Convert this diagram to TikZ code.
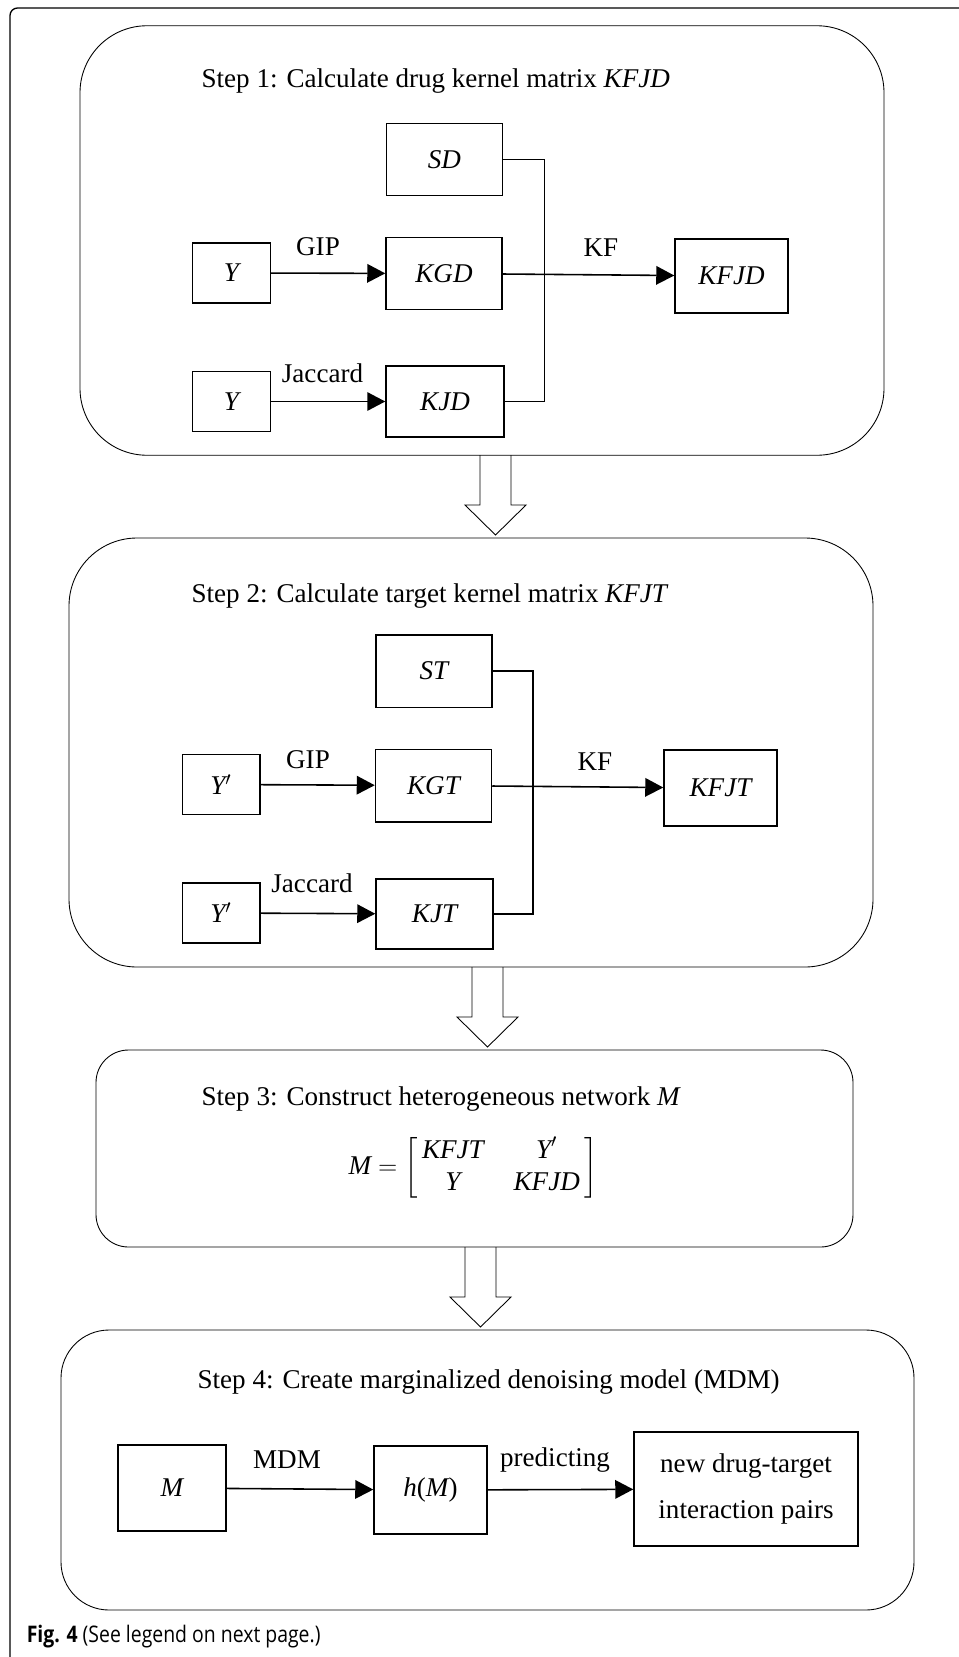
\documentclass[tikz,border=0pt]{standalone}
\usepackage{amsmath}
\usepackage{fontspec}
\setmainfont{Liberation Serif}
\newfontfamily\capfont[FakeStretch=0.85]{Open Sans}
\usetikzlibrary{arrows.meta,positioning,calc}
\newcommand{\stepdown}[1]{\draw[bigarrow] (#1) ++(-0.31,0) -- ++(0,-1) -- ++(-0.3,0)
  -- ++(0.61,-0.6) -- ++(0.61,0.6) -- ++(-0.3,0) -- ++(0,1);}

\begin{document}
\begin{tikzpicture}
 [font=\fontsize{15.4}{18.5}\selectfont,
 >={Triangle[length=0.36cm,width=0.37cm]}, line width=0.9pt,
 stage/.style={draw,line width=0.5pt,inner sep=0pt},
 ybox/.style={draw,line width=0.85pt,inner sep=0pt,minimum width=1.55cm,minimum height=1.2cm,
   font=\fontsize{15.4}{18.5}\selectfont\itshape},
 kbox/.style={ybox,minimum width=2.32cm,minimum height=1.45cm},
 lab/.style={anchor=base,inner sep=0pt},
 bigarrow/.style={line width=0.5pt,line join=miter}]
\useasboundingbox (0,0) rectangle (19.16,-33.14);

% outer frame
\draw[line width=0.75pt,rounded corners=0.15cm] (0.2,-34) -- (0.2,-0.16) -- (19.6,-0.16);

% step 1
\node[stage,rounded corners=1.34cm,minimum width=16.08cm,minimum height=8.59cm] (s1) at (9.64,-4.81) {};
\node[anchor=base west] (t1) at (3.90,-1.76) {Step 1: Calculate drug kernel matrix \textit{KFJD}};

\node[kbox] (SD) at (8.89,-3.19) {SD};
\node[ybox] (Y1) at (4.63,-5.46) {Y};
\node[kbox] (KGD) at (8.88,-5.47) {KGD};
\node[kbox,minimum width=2.26cm,minimum height=1.48cm] (KFJD) at (14.63,-5.52) {KFJD};
\node[ybox] (Y2) at (4.63,-8.03) {Y};
\node[kbox,minimum width=2.36cm,minimum height=1.42cm] (KJD) at (8.90,-8.03) {KJD};
\coordinate (busD) at (10.89,-3.1);

\draw[->] (Y1) -- (KGD);
\draw[->] (Y2) -- (KJD);
\draw[->] (KGD) -- (KFJD);
\draw (SD.east) -| (busD |- KJD.east) -- (KJD.east);

\node[lab] (gip1) at (6.36,-5.10) {GIP};
\node[lab] (kf1) at (12.02,-5.13) {KF};
\node[lab] (jac1) at (6.45,-7.65) {Jaccard};

\coordinate (a1) at (9.91,-9.10);
\stepdown{a1}

% step 2
\node[stage,rounded corners=1.36cm,minimum width=16.08cm,minimum height=8.58cm] (s2) at (9.42,-15.05) {};
\node[anchor=base west] (t2) at (3.70,-12.04) {Step 2: Calculate target kernel matrix \textit{KFJT}};

\node[kbox] (ST) at (8.68,-13.42) {ST};
\node[ybox] (Yp1) at (4.42,-15.69) {Y$'$};
\node[kbox] (KGT) at (8.67,-15.71) {KGT};
\node[kbox,minimum width=2.26cm,minimum height=1.52cm] (KFJT) at (14.41,-15.76) {KFJT};
\node[ybox] (Yp2) at (4.42,-18.26) {Y$'$};
\node[kbox,minimum width=2.34cm,minimum height=1.40cm] (KJT) at (8.69,-18.28) {KJT};
\coordinate (busT) at (10.66,-13.34);

\draw[->] (Yp1) -- (KGT);
\draw[->] (Yp2) -- (KJT);
\draw[->] (KGT) -- (KFJT);
\draw (ST.east) -| (busT |- KJT.east) -- (KJT.east);

\node[lab] (gip2) at (6.16,-15.36) {GIP};
\node[lab] (kf2) at (11.90,-15.40) {KF};
\node[lab] (jac2) at (6.24,-17.85) {Jaccard};

\coordinate (a2) at (9.75,-19.34);
\stepdown{a2}

% step 3
\node[stage,rounded corners=0.65cm,minimum width=15.14cm,minimum height=3.94cm] (s3) at (9.49,-22.97) {};
\node[anchor=base west] (t3) at (3.90,-22.10) {Step 3: Construct heterogeneous network \textit{M}};
\node (Meq) at (9.46,-23.36)
  {$\textit{M} = \left[\begin{array}{@{\,}c@{\hspace{0.6cm}}c@{\,}}
   \textit{KFJT} & \textit{Y}' \\ \textit{Y} & \textit{KFJD}\end{array}\right]$};

\coordinate (a3) at (9.61,-24.94);
\stepdown{a3}

% step 4
\node[stage,rounded corners=0.96cm,minimum width=17.06cm,minimum height=5.6cm] (s4) at (9.75,-29.4) {};
\node[anchor=base west] (t4) at (3.82,-27.76) {Step 4: Create marginalized denoising model (MDM)};

\node[ybox,minimum width=2.16cm,minimum height=1.72cm] (M) at (3.44,-29.76) {M};
\node[ybox,minimum width=2.26cm,minimum height=1.76cm] (hM) at (8.61,-29.80) {h{\upshape(}M{\upshape)}};
\node[ybox,minimum width=4.48cm,minimum height=2.28cm,align=center,
  font=\fontsize{15.4}{18.5}\selectfont] (pairs) at (14.92,-29.78)
  {new drug-target\\[8pt]interaction pairs};

\draw[->] (M) -- (hM);
\draw[->] (hM) -- (pairs);

\node[lab] (mdm) at (5.74,-29.36) {MDM};
\node[lab] (pred) at (11.10,-29.32) {predicting};

\node[anchor=base west,inner sep=0pt,font=\capfont\fontsize{13}{15}\selectfont] (cap) at (0.52,-32.85)
  {\textbf{Fig. 4} (See legend on next page.)};
\end{tikzpicture}
\end{document}
